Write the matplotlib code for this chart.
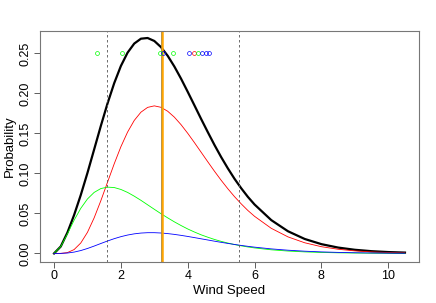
import matplotlib
matplotlib.use('Agg')
import matplotlib.pyplot as plt
import numpy as np

plt.rcParams['font.family'] = ['Liberation Sans', 'DejaVu Sans']

# wind speed grid
speed = [0, 0.2, 0.4, 0.6, 0.8, 1.0, 1.2, 1.4, 1.6, 1.8, 2.0, 2.2, 2.4, 2.6,
         2.8, 3.0, 3.2, 3.4, 3.6, 3.8, 4.0, 4.2, 4.4, 4.6, 4.8, 5.0, 5.2, 5.4,
         5.6, 5.8, 6.0, 6.5, 7.0, 7.5, 8.0, 8.5, 9.0, 9.5, 10.0, 10.5]

# component densities
red = [0, 0.00006, 0.00105, 0.00483, 0.01306, 0.0264, 0.0445, 0.0659, 0.0890,
       0.1120, 0.1334, 0.1517, 0.1663, 0.1766, 0.1826, 0.1845, 0.1827, 0.1778,
       0.1704, 0.1610, 0.1502, 0.1386, 0.1266, 0.1146, 0.1028, 0.0915, 0.0809,
       0.0710, 0.0620, 0.0537, 0.0464, 0.0314, 0.0207, 0.01334, 0.00843,
       0.00523, 0.00319, 0.00192, 0.00114, 0.00067]
green = [0, 0.00851, 0.0245, 0.0415, 0.0564, 0.0681, 0.0763, 0.0811, 0.0829,
         0.0824, 0.0800, 0.0763, 0.0716, 0.0664, 0.0608, 0.0552, 0.0497, 0.0445,
         0.0395, 0.0349, 0.0306, 0.0268, 0.0233, 0.0203, 0.0175, 0.0151, 0.0130,
         0.0111, 0.0095, 0.0081, 0.0069, 0.00456, 0.00299, 0.00194, 0.00125,
         0.00080, 0.00051, 0.00032, 0.00020, 0.00013]
blue = [0, 0.00006, 0.00052, 0.00168, 0.00361, 0.00619, 0.00921, 0.01242,
        0.01556, 0.01846, 0.02097, 0.02300, 0.02450, 0.02548, 0.02594, 0.02595,
        0.02555, 0.02482, 0.02382, 0.02261, 0.02126, 0.01981, 0.01832, 0.01682,
        0.01533, 0.01389, 0.01252, 0.01123, 0.01002, 0.00890, 0.00787, 0.00570,
        0.00404, 0.00282, 0.00193, 0.00131, 0.00087, 0.00058, 0.00038, 0.00025]
# mixture = sum of components
total = list(np.array(red) + np.array(green) + np.array(blue))

# component centres drawn as circles at y = 0.25
pt_x = [1.30, 2.04, 3.16, 3.25, 3.56, 4.03, 4.18, 4.31, 4.42, 4.54, 4.65]
pt_col = ['#00FF00', '#00FF00', '#00FF00', '#0000FF', '#00FF00', '#0000FF',
          '#FF0000', '#00FF00', '#0000FF', '#0000FF', '#0000FF']
pt_y = 0.25

dashed_x = [1.58, 5.54]
orange_x = 3.22

fig = plt.figure(figsize=(4.36, 3.03), dpi=100)
ax = fig.add_axes([40/436, 41/303, 379/436, 231/303])

ax.plot(speed, total, color='black', lw=1.6)
ax.plot(speed, red, color='#FF0000', lw=0.6)
ax.plot(speed, green, color='#00FF00', lw=0.6)
ax.plot(speed, blue, color='#0000FF', lw=0.6)

for xv in dashed_x:
    ax.axvline(xv, color='#555555', lw=0.6, ls=(0, (3, 3)))
ax.axvline(orange_x, color='#FFA500', lw=1.8)
ax.axvline(orange_x - 0.02, color='#8a7a50', lw=0.4)

for xv, c in zip(pt_x, pt_col):
    ax.plot(xv, pt_y, 'o', mfc='none', mec=c, ms=2.8, mew=0.5)

ax.set_xlim(-0.42, 10.92)
ax.set_ylim(-0.0107, 0.2781)
ax.set_xticks([0, 2, 4, 6, 8, 10])
ax.set_yticks([0, 0.05, 0.10, 0.15, 0.20, 0.25])
ax.set_yticklabels(['0.00', '0.05', '0.10', '0.15', '0.20', '0.25'],
                   rotation=90, va='center')
ax.tick_params(labelsize=9, length=4, width=0.6, color='#444444', pad=2)
for s in ax.spines.values():
    s.set_color('#777777')
    s.set_linewidth(0.8)
ax.set_xlabel('Wind Speed', fontsize=9.5, labelpad=2)
ax.set_ylabel('Probability', fontsize=9.5, labelpad=3)

fig.savefig('out.png', dpi=100)
